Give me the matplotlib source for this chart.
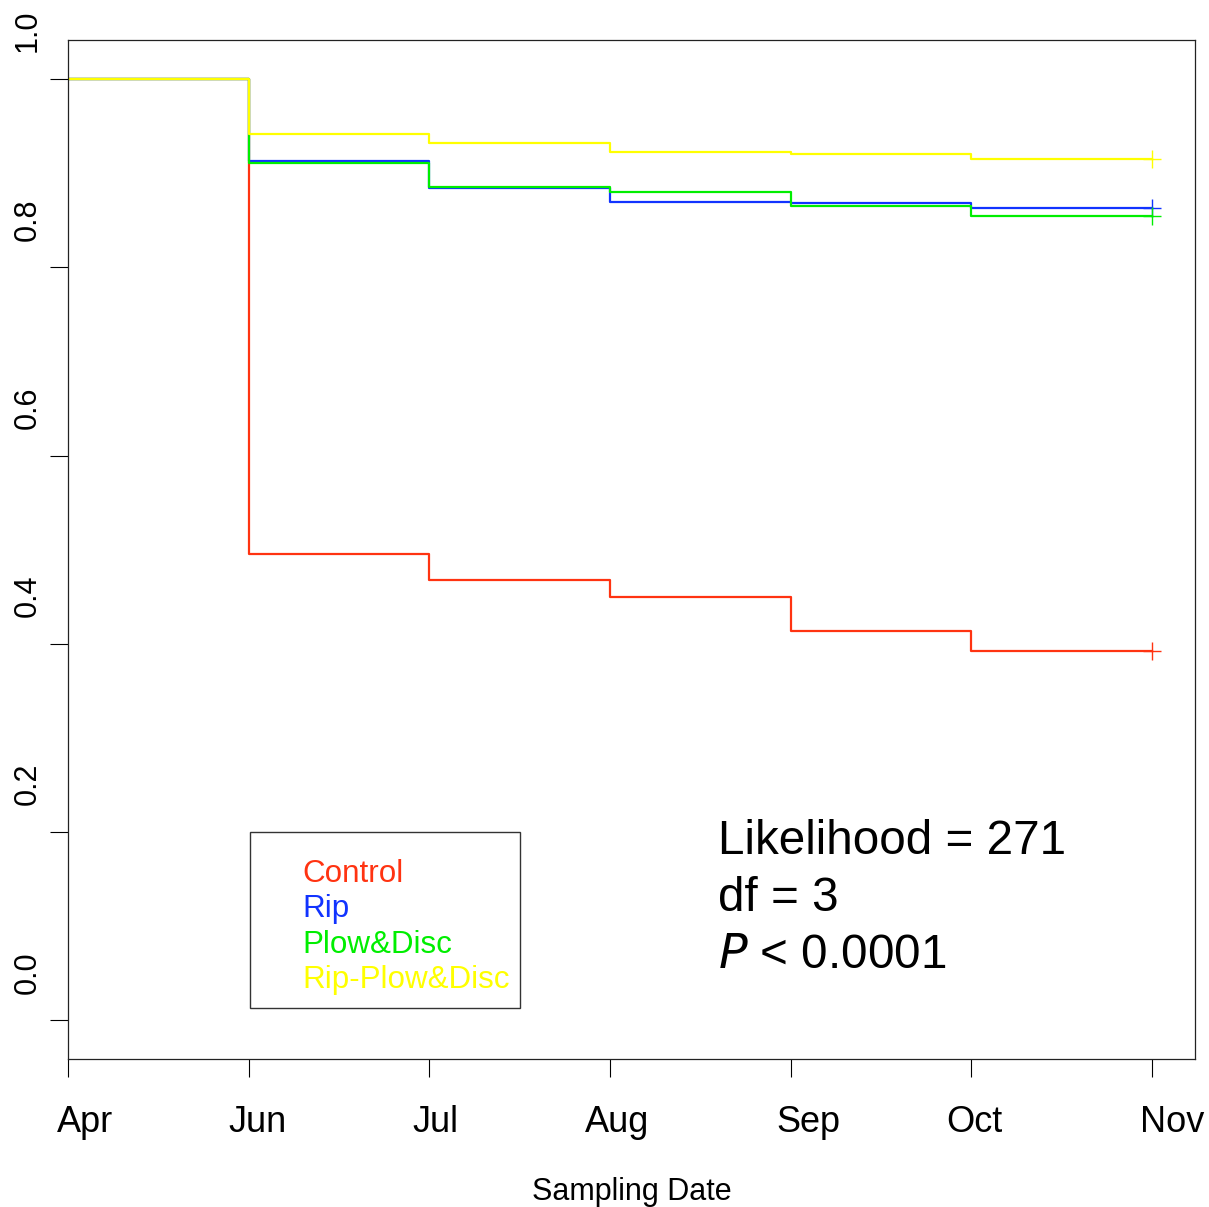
import matplotlib
matplotlib.use("Agg")
import matplotlib.pyplot as plt
import matplotlib.transforms as mtransforms
from matplotlib.patches import Rectangle

plt.rcParams['font.family'] = ['Liberation Sans', 'DejaVu Sans']

W, H = 1209, 1207

# sampling occasions (0 = Apr ... 6 = Nov)
months = [0, 1, 2, 3, 4, 5, 6]
monthLabels = ["Apr", "Jun", "Jul", "Aug", "Sep", "Oct", "Nov"]
yTicks = [0.0, 0.2, 0.4, 0.6, 0.8, 1.0]
yLabels = ["0.0", "0.2", "0.4", "0.6", "0.8", "1.0"]

# survival proportion after each sampling occasion
control = [1.0, 0.496, 0.468, 0.450, 0.414, 0.392, 0.392]
rip = [1.0, 0.913, 0.884, 0.870, 0.869, 0.863, 0.863]
plowDisc = [1.0, 0.911, 0.886, 0.880, 0.865, 0.855, 0.855]
ripPlowDisc = [1.0, 0.942, 0.932, 0.923, 0.921, 0.915, 0.915]

treatments = ["Control", "Rip", "Plow&Disc", "Rip-Plow&Disc"]
colors = ["#FF3311", "#1133FF", "#00EE00", "#FFFF00"]
series = [control, rip, plowDisc, ripPlowDisc]

statLines = ["Likelihood = 271", "df = 3", r"$\it{P}$ < 0.0001"]

fig = plt.figure(figsize=(W / 100, H / 100), dpi=100)
ax = fig.add_axes([68 / W, 1 - 1059 / H, (1195 - 68) / W, (1059 - 40) / H])

for vals, col in zip(series, colors):
    ax.step(months, vals, where="post", color=col, lw=1.6)
    ax.plot(months[-1], vals[-1], marker="+", ms=13, mew=1.0, color=col)

# tick marks at each month, labels nudged off the marks
ax.set_xticks(months, labels=[""] * len(months))
ax.set_xticks([0.094, 1.05, 2.033, 3.04, 4.10, 5.018, 6.11], labels=monthLabels, minor=True)
ax.tick_params(axis="x", which="major", length=13, width=0.8, direction="out")
ax.tick_params(axis="x", which="minor", length=0, pad=33, labelsize=26)

ax.set_yticks(yTicks, labels=[""] * len(yTicks))
ax.tick_params(axis="y", length=13, width=0.8, direction="out")

ax.set_xlim(0, 6.238)
ax.set_ylim(-0.041, 1.0417)

# y labels sit a bit above their marks; the top one falls outside the axes
ylab_tr = mtransforms.blended_transform_factory(ax.transAxes, ax.transData)
for t, lab in zip(yTicks, yLabels):
    ax.text(-40 / 1127, t + 0.051, lab, transform=ylab_tr, rotation=90,
            ha="center", va="center", fontsize=22, clip_on=False)

for s in ax.spines.values():
    s.set_linewidth(0.9)
    s.set_color("#222222")

ax.set_xlabel("Sampling Date", fontsize=22, labelpad=27)

# legend box drawn by hand
fig.patches.append(Rectangle((250 / W, 1 - 1008 / H), 270 / W, 176 / H,
                             transform=fig.transFigure, fill=False,
                             edgecolor="#333333", lw=1.0))
for i, (name, col) in enumerate(zip(treatments, colors)):
    fig.text(302 / W, 1 - (882 + 35.3 * i) / H, name, color=col,
             fontsize=22.6, va="baseline", ha="left")

for i, line in enumerate(statLines):
    fig.text(718 / W, 1 - (854 + 57 * i) / H, line, fontsize=34.3,
             va="baseline", ha="left")

fig.savefig("out.png", dpi=100)
